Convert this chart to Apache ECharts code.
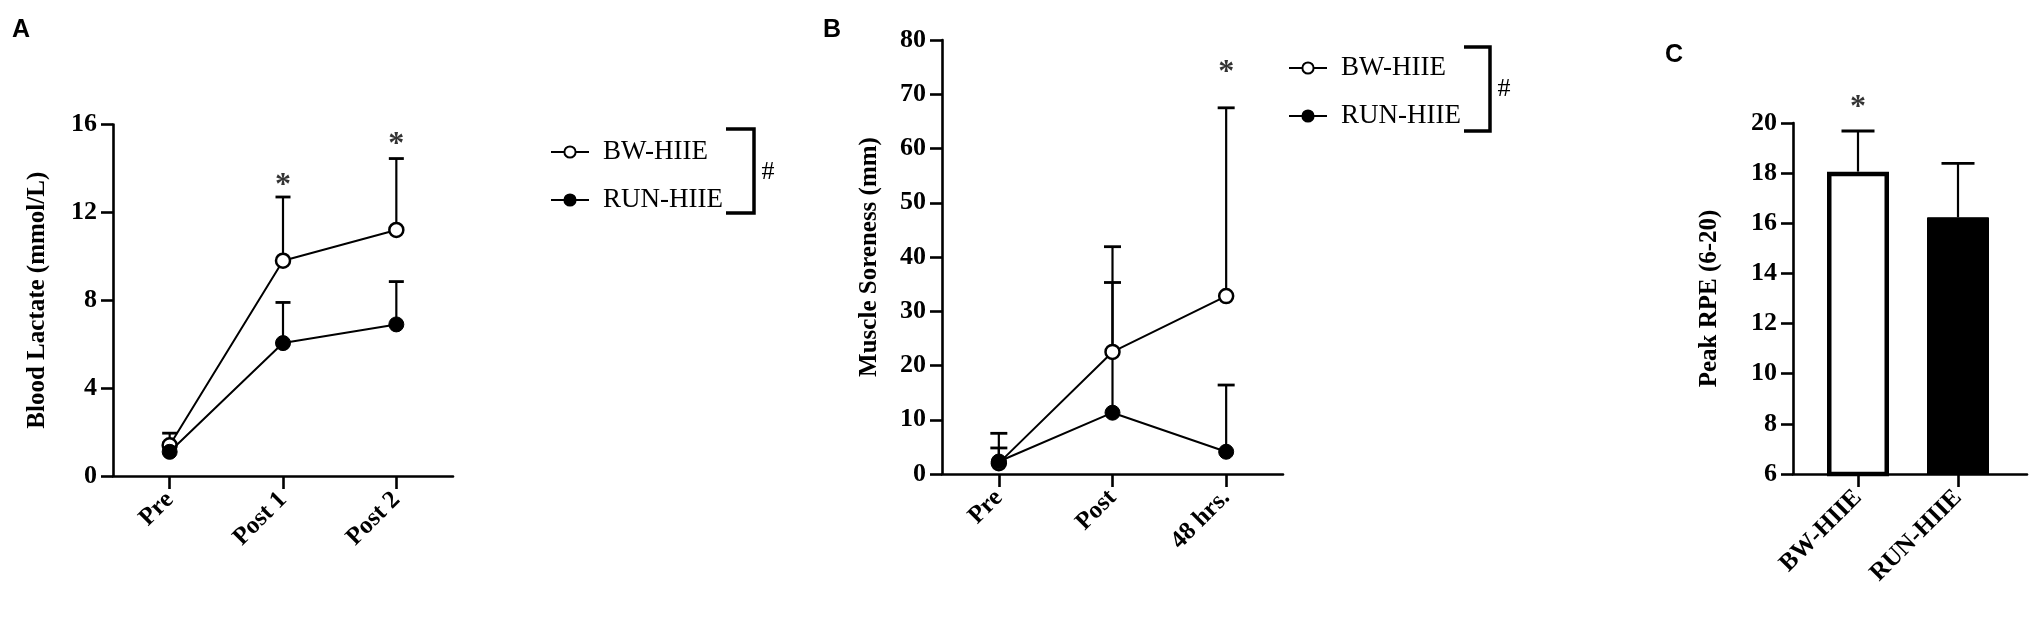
<!DOCTYPE html>
<html>
<head>
<meta charset="utf-8">
<script src="https://cdn.jsdelivr.net/npm/echarts@6/dist/echarts.min.js"></script>
<style>
html,body{margin:0;padding:0;background:#fff;}
#chart{width:2033px;height:617px;}
</style>
</head>
<body>
<div id="chart"></div>
<script>
// Panel A: Blood lactate
const catA = ['Pre', 'Post 1', 'Post 2'];
const bwA = [1.4, 9.8, 11.2];
const bwAerr = [1.95, 12.7, 14.45];
const runA = [1.1, 6.05, 6.9];
const runAerr = [1.5, 7.9, 8.85];
const starA = [[1, 13.2], [2, 15.07]];

// Panel B: Muscle soreness
const catB = ['Pre', 'Post', '48 hrs.'];
const bwB = [2.0, 22.5, 32.8];
const bwBerr = [7.5, 41.9, 67.5];
const runB = [2.3, 11.3, 4.1];
const runBerr = [4.8, 35.3, 16.4];
const starB = [[2, 74.0]];

// Panel C: Peak RPE
const catC = ['BW-HIIE', 'RUN-HIIE'];
const meanC = [18.06, 16.24];
const errC = [19.68, 18.39];
const starC = [[0, 20.62]];

const serif = 'Liberation Serif';
const K = '#000';

function errSeries(ai, means, tops, capW) {
  return {
    type: 'custom', xAxisIndex: ai, yAxisIndex: ai, z: 1, silent: true, clip: false,
    data: means.map((m, i) => [i, m, tops[i]]),
    renderItem: function (params, api) {
      const x = api.value(0);
      const p0 = api.coord([x, api.value(1)]);
      const p1 = api.coord([x, api.value(2)]);
      return {
        type: 'group',
        children: [
          {type: 'line', shape: {x1: p0[0], y1: p0[1], x2: p1[0], y2: p1[1]}, style: {stroke: K, lineWidth: 2.2}},
          {type: 'line', shape: {x1: p1[0] - capW / 2, y1: p1[1], x2: p1[0] + capW / 2, y2: p1[1]}, style: {stroke: K, lineWidth: 2.8}}
        ]
      };
    }
  };
}

function starSeries(ai, pts) {
  return {
    type: 'scatter', xAxisIndex: ai, yAxisIndex: ai, symbolSize: 1, silent: true, z: 5, clip: false,
    itemStyle: {color: 'rgba(0,0,0,0)'},
    data: pts,
    label: {show: true, position: 'inside', formatter: '*', color: K,
      fontFamily: serif, fontWeight: 'bold', fontSize: 32}
  };
}

function lineSeries(ai, name, vals, filled) {
  return {
    type: 'line', name: name, xAxisIndex: ai, yAxisIndex: ai, data: vals,
    symbol: 'circle', symbolSize: filled ? 15 : 14, z: filled ? 4 : 3,
    lineStyle: {color: K, width: 2},
    itemStyle: filled ? {color: K, borderColor: K, borderWidth: 1}
                      : {color: '#fff', borderColor: K, borderWidth: 2.5},
    emphasis: {disabled: true}
  };
}

function xAx(gi, cats, showLine) {
  return {
    type: 'category', gridIndex: gi, data: cats, boundaryGap: true,
    axisLine: {show: showLine, lineStyle: {color: K, width: 2.6}},
    axisTick: {show: true, alignWithLabel: true, length: 13, lineStyle: {color: K, width: 2.6}},
    axisLabel: {rotate: 45, margin: 20, color: K, fontFamily: serif, fontWeight: 'bold', fontSize: 25},
    splitLine: {show: false}
  };
}

function yAx(gi, min, max, interval, name, gap, offset) {
  return {
    type: 'value', gridIndex: gi, min: min, max: max, interval: interval, offset: offset || 0,
    name: name, nameLocation: 'middle', nameRotate: 90, nameGap: gap, nameMoveOverlap: false,
    nameTextStyle: {color: K, fontFamily: serif, fontWeight: 'bold', fontSize: 25},
    axisLine: {show: true, lineStyle: {color: K, width: 2.6}},
    axisTick: {show: true, length: 12, lineStyle: {color: K, width: 2.6}},
    axisLabel: {margin: 16, color: K, fontFamily: serif, fontWeight: 'bold', fontSize: 26},
    splitLine: {show: false}
  };
}

const legendText = {color: K, fontFamily: serif, fontSize: 27, lineHeight: 28, padding: [0, 0, 0, 9]};

const option = {
  backgroundColor: '#fff',
  animation: false,
  grid: [
    {left: 113, top: 124.5, width: 340, height: 351.5, containLabel: false, outerBoundsMode: 'none'},
    {left: 942, top: 40, width: 341, height: 434, containLabel: false, outerBoundsMode: 'none'},
    {left: 1808, top: 123, width: 200, height: 351, containLabel: false, outerBoundsMode: 'none'},
    {left: 1793, top: 123, width: 234, height: 351, containLabel: false, outerBoundsMode: 'none'}
  ],
  xAxis: [
    xAx(0, catA, true), xAx(1, catB, true), xAx(2, catC, false),
    {type: 'category', gridIndex: 3, data: catC, axisLine: {show: true, lineStyle: {color: K, width: 2.6}},
     axisTick: {show: false}, axisLabel: {show: false}, splitLine: {show: false}}
  ],
  yAxis: [
    yAx(0, 0, 16, 4, 'Blood Lactate (mmol/L)', 63),
    yAx(1, 0, 80, 10, 'Muscle Soreness (mm)', 60),
    yAx(2, 6, 20, 2, 'Peak RPE (6-20)', 71, 15),
    {type: 'value', gridIndex: 3, min: 6, max: 20, show: false}
  ],
  legend: [
    {data: ['BW-HIIE', 'RUN-HIIE'], orient: 'vertical', left: 545, top: 133, itemWidth: 38, itemHeight: 14,
     itemGap: 20, textStyle: legendText, selectedMode: false},
    {data: ['BW-HIIE', 'RUN-HIIE'], orient: 'vertical', left: 1283, top: 49, itemWidth: 38, itemHeight: 14,
     itemGap: 20, textStyle: legendText, selectedMode: false}
  ],
  graphic: [
    {type: 'text', left: 12, top: 18, style: {text: 'A', font: 'bold 25px "Liberation Sans"', fill: K}},
    {type: 'text', left: 823, top: 18, style: {text: 'B', font: 'bold 25px "Liberation Sans"', fill: K}},
    {type: 'text', left: 1665, top: 43, style: {text: 'C', font: 'bold 25px "Liberation Sans"', fill: K}},
    {type: 'polyline', shape: {points: [[726, 129], [754, 129], [754, 213], [726, 213]]}, style: {stroke: K, lineWidth: 3.5, fill: null}},
    {type: 'text', x: 768, y: 172, style: {text: '#', font: '26px "Liberation Serif"', fill: K, align: 'center', verticalAlign: 'middle'}},
    {type: 'polyline', shape: {points: [[1464, 47], [1490, 47], [1490, 131], [1464, 131]]}, style: {stroke: K, lineWidth: 3.5, fill: null}},
    {type: 'text', x: 1504, y: 89, style: {text: '#', font: '26px "Liberation Serif"', fill: K, align: 'center', verticalAlign: 'middle'}}
  ],
  series: [
    errSeries(0, bwA, bwAerr, 15),
    errSeries(0, runA, runAerr, 15),
    lineSeries(0, 'BW-HIIE', bwA, false),
    lineSeries(0, 'RUN-HIIE', runA, true),
    starSeries(0, starA),

    errSeries(1, bwB, bwBerr, 17),
    errSeries(1, runB, runBerr, 17),
    lineSeries(1, 'BW-HIIE', bwB, false),
    lineSeries(1, 'RUN-HIIE', runB, true),
    starSeries(1, starB),

    {
      type: 'bar', xAxisIndex: 2, yAxisIndex: 2, barWidth: 62, z: 2,
      data: meanC.map((v, i) => ({
        value: v,
        itemStyle: i === 0 ? {color: '#fff', borderColor: K, borderWidth: 4.5} : {color: K, borderColor: K, borderWidth: 1}
      })),
      emphasis: {disabled: true}
    },
    errSeries(2, meanC, errC, 33),
    starSeries(2, starC)
  ]
};

const chart = echarts.init(document.getElementById('chart'), null, {renderer: 'canvas'});
chart.setOption(option);
</script>
</body>
</html>
